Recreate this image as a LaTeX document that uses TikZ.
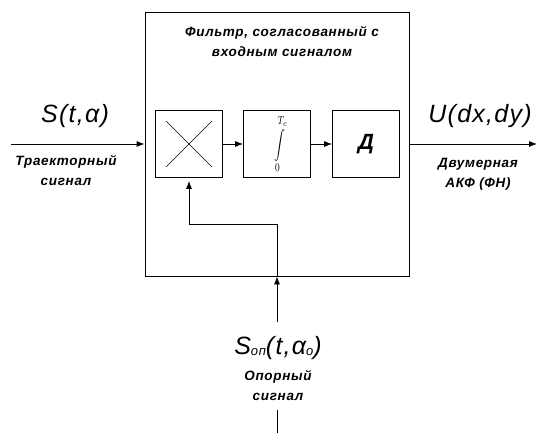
\documentclass[tikz,border=0pt]{standalone}
\usepackage{fontspec}
\usepackage{graphicx}
\usetikzlibrary{arrows.meta,calc}
\newfontfamily\cad[LetterSpace=5]{Liberation Sans}
\newcommand{\fsz}[1]{\fontsize{#1}{#1}\selectfont}
\begin{document}
\begin{tikzpicture}[x=1pt,y=-1pt,
  box/.style={draw, line width=0.8pt, minimum width=67pt, minimum height=67pt, inner sep=0pt},
  conn/.style={line width=0.8pt},
  arr/.style={conn, -{Latex[length=8pt,width=6pt]}},
  lbl/.style={font=\cad\itshape\bfseries\fontsize{13.5}{20}\selectfont, inner sep=0pt, align=center},
  big/.style={font=\cad\itshape\fsz{25}, inner sep=0pt}]
\useasboundingbox (0,0) rectangle (537,433);
\node[draw, line width=0.8pt, minimum width=264pt, minimum height=264pt, inner sep=0pt] (filt) at (277,144) {};
\node[box] (mult) at (189,144) {};
\draw[line width=0.6pt] ($(mult.north west)+(11,11)$) -- ($(mult.south east)+(-11,-11)$);
\draw[line width=0.6pt] ($(mult.north east)+(-11,11)$) -- ($(mult.south west)+(11,-11)$);
\node[box] (integ) at (277,144) {};
\node[inner sep=0pt] (intsym) at (280,144) {\scalebox{1.1}[1.45]{\fsz{12}$\displaystyle\int\limits_{0}^{\raisebox{1pt}{$\scriptstyle T_c$}}$}};
\node[box, font=\cad\itshape\bfseries\fsz{22}] (dd) at (366,144) {Д};
\coordinate (inL) at (11,144);
\coordinate (outR) at (537,144);
\coordinate (fb) at (277,224);
\coordinate (refin) at (277,322);
\coordinate (reftop) at (277,410);
\coordinate (refbot) at (277,433);
\draw[arr] (inL) -- (filt.west);
\draw[arr] (filt.east) -- (outR);
\draw[arr] (mult.east) -- (integ.west);
\draw[arr] (integ.east) -- (dd.west);
\draw[arr, shorten >=3pt] (filt.south) -- (fb) -| (mult.south);
\draw[arr] (refin) -- (filt.south);
\draw[conn] (reftop) -- (refbot);
\node[big] (sin) at (75,116) {S(t,α)};
\node[lbl] (sinl) at (66,171) {Траекторный\\сигнал};
\node[lbl] (title) at (282,42) {Фильтр, согласованный с\\входным сигналом};
\node[big] (uout) at (480,116) {U(dx,dy)};
\node[lbl] (uoutl) at (478,174) {Двумерная\\АКФ (ФН)};
\node[big] (sref) at (278,348) {S\raisebox{-1pt}{\fsz{13}оп}(t,α\raisebox{-1pt}{\fsz{13}o})};
\node[lbl] (srefl) at (278,386) {Опорный\\сигнал};
\end{tikzpicture}
\end{document}
